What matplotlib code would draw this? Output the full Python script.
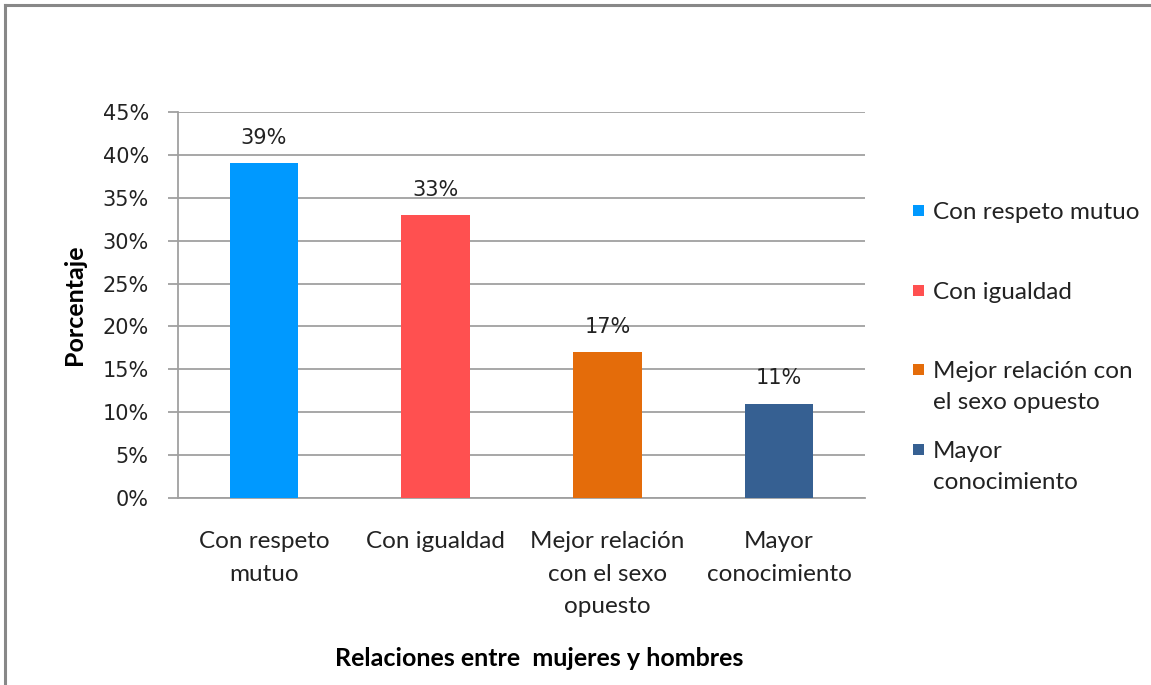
import matplotlib.pyplot as plt
from matplotlib.lines import Line2D
from matplotlib.patches import Rectangle

categorias = ['Con respeto\nmutuo', 'Con igualdad', 'Mejor relación\ncon el sexo\nopuesto', 'Mayor\nconocimiento']
leyenda = ['Con respeto mutuo', 'Con igualdad', 'Mejor relación con\nel sexo opuesto', 'Mayor\nconocimiento']
porcentajes = [39, 33, 17, 11]
colores = ['#0099FF', '#FF5050', '#E46C0A', '#366092']
ticks_y = [0, 5, 10, 15, 20, 25, 30, 35, 40, 45]

W, H = 1151, 685
fig = plt.figure(figsize=(W / 100, H / 100), dpi=100)
fig.patch.set_facecolor('white')
ax = fig.add_axes([178 / W, 1 - 498 / H, 687 / W, 386 / H])

x = range(len(porcentajes))
barras = ax.bar(x, porcentajes, width=0.4, color=colores, zorder=3)

ax.set_xlim(-0.5, len(porcentajes) - 0.5)
ax.set_ylim(0, 45)
ax.set_yticks(ticks_y)
ax.set_yticklabels([f'{t}%' for t in ticks_y], fontsize=15, family='DejaVu Sans', color='#222222')
ax.set_xticks(list(x))
ax.set_xticklabels(categorias, fontsize=17.5, family='Lato', color='#222222', linespacing=1.68)
ax.tick_params(axis='x', length=0, pad=24)
ax.tick_params(axis='y', length=7, width=1.3, color='#A0A0A0', pad=14)
ax.grid(axis='y', color='#A0A0A0', linewidth=1.3, zorder=0)
for lado in ['top', 'right']:
    ax.spines[lado].set_visible(False)
for lado in ['left', 'bottom']:
    ax.spines[lado].set_color('#A0A0A0')
    ax.spines[lado].set_linewidth(1.3)

# etiquetas de valor sobre cada barra
for b, v in zip(barras, porcentajes):
    ax.annotate(f'{v}%', (b.get_x() + b.get_width() / 2, v), xytext=(0, 11),
                textcoords='offset points', ha='center', va='bottom',
                fontsize=15, family='DejaVu Sans', color='#222222')

ax.set_ylabel('Porcentaje', fontsize=18, family='Lato', fontweight='bold', labelpad=12)
fig.text(539 / W, 1 - 658 / H, 'Relaciones entre  mujeres y hombres', ha='center', va='center',
         fontsize=18, family='Lato', fontweight='bold', color='black')

# leyenda a la derecha: posición vertical de la primera línea de cada entrada
primeras = [211, 291, 370, 450]
for texto, col, cy in zip(leyenda, colores, primeras):
    fig.patches.append(Rectangle((913 / W, 1 - (cy + 5) / H), 11 / W, 11 / H,
                                 transform=fig.transFigure, facecolor=col, edgecolor='none'))
    fig.text(933 / W, 1 - (cy - 9) / H, texto, ha='left', va='top', fontsize=17.5,
             family='Lato', color='#222222', linespacing=1.58)

# marco gris superior e izquierdo
fig.add_artist(Line2D([5 / W, 1], [1 - 5 / H, 1 - 5 / H], color='#888888', linewidth=2.2))
fig.add_artist(Line2D([5 / W, 5 / W], [1 - 5 / H, 0], color='#888888', linewidth=2.2))

fig.savefig('out.png', dpi=100, facecolor='white')
